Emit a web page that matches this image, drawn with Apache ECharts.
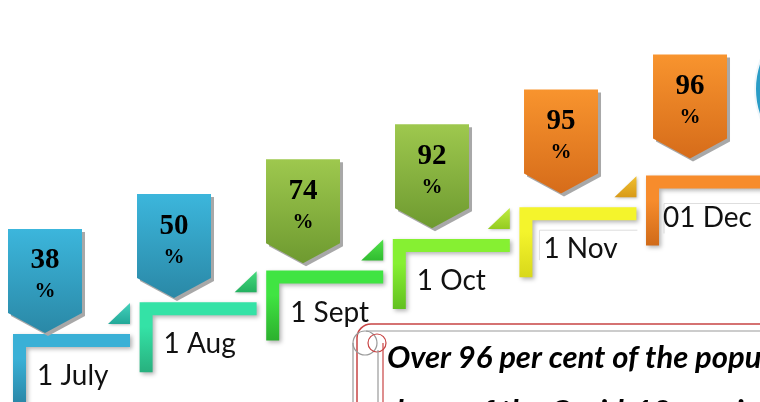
<!DOCTYPE html>
<html>
<head>
<meta charset="utf-8">
<script src="https://cdn.jsdelivr.net/npm/echarts@6/dist/echarts.min.js"></script>
<style>
  html, body { margin: 0; padding: 0; background: #fff; }
  #chart { width: 760px; height: 402px; }
</style>
</head>
<body>
<div id="chart"></div>
<script>
// milestones of the vaccination drive
var dates = ['1 July', '1 Aug', '1 Sept', '1 Oct', '1 Nov', '01 Dec'];
var percents = [38, 50, 74, 92, 95, 96];
var levels = [0, 1, 2, 3, 4, 5];
var caption = [
    'Over 96 per cent of the population received both',
    'doses of the Covid-19 vaccine'
];

// colours for each step
var stepColors = ['#3ab0d6', '#34e2a6', '#40e442', '#86f032', '#f4f42c', '#f78c2c'];
var stepDark = ['#2a86a6', '#28b07e', '#2cb02e', '#62c020', '#d8d81a', '#d06a18'];
var triColors = ['#44d2bc', '#44dc7c', '#52e24a', '#c0ec40', '#f0c030', '#f78c2c'];
var triDark = ['#22a898', '#24b060', '#30bc30', '#94cc20', '#d89a18', '#d06a18'];
var badgeTop = ['#3cb6dc', '#3cb6dc', '#9ec84e', '#9ec84e', '#f8942e', '#f8942e'];
var badgeBot = ['#2a88a6', '#2a88a6', '#6e9a30', '#6e9a30', '#d66c1a', '#d66c1a'];

function grad(c1, c2) {
    return new echarts.graphic.LinearGradient(0, 0, 0, 1, [
        { offset: 0, color: c1 },
        { offset: 1, color: c2 }
    ]);
}

function renderStep(params, api) {
    var i = api.value(0);
    var pt = api.coord([api.value(0), api.value(1)]);
    var x0 = pt[0], y0 = pt[1];
    var w = i === 5 ? 150 : 117, t = 13, len = 70;
    var children = [];

    // faint label box for the later steps
    if (i >= 4) {
        var bx = x0 + (i === 4 ? 20 : 18), by = y0 + (i === 4 ? 23 : 28);
        children.push({
            type: 'polyline',
            shape: { points: [[bx, by + 30], [bx, by], [bx + (i === 4 ? 98 : 120), by]] },
            style: { fill: 'none', stroke: '#dedede', lineWidth: 1 }
        });
    }

    // L shaped step
    children.push({
        type: 'polygon',
        shape: { points: [[x0, y0], [x0 + w, y0], [x0 + w, y0 + t], [x0 + t, y0 + t], [x0 + t, y0 + len], [x0, y0 + len]] },
        style: {
            fill: new echarts.graphic.LinearGradient(0, 0, 0, 1, [
                { offset: 0, color: stepColors[i] },
                { offset: 0.35, color: stepColors[i] },
                { offset: 1, color: stepDark[i] }
            ]),
            shadowBlur: 4, shadowOffsetX: 2, shadowOffsetY: 2, shadowColor: 'rgba(0,0,0,0.3)'
        }
    });

    // little triangle at the end of the step
    if (i < 5) {
        children.push({
            type: 'polygon',
            shape: { points: [[x0 + w - 22, y0 - 10], [x0 + w, y0 - 10], [x0 + w, y0 - 31]] },
            style: {
                fill: grad(triColors[i], triDark[i]),
                shadowBlur: 3, shadowOffsetX: 1, shadowOffsetY: 1, shadowColor: 'rgba(0,0,0,0.25)'
            }
        });
    }

    children.push({
        type: 'text',
        style: {
            x: x0 + (i === 5 ? 17 : 24), y: y0 + 42,
            text: dates[i],
            fill: '#111',
            font: '28px Lato',
            verticalAlign: 'middle', align: 'left'
        }
    });

    // pentagon badge with the percentage
    var cx = x0 + 32 + 2.4 * i;
    var top = y0 - 105 - 3.2 * i;
    var hw = 37, rh = 84, tip = 20;
    var badge = [[cx - hw, top], [cx + hw, top], [cx + hw, top + rh], [cx, top + rh + tip], [cx - hw, top + rh]];
    children.push({
        type: 'polygon',
        shape: { points: badge.map(function (p) { return [p[0] + 3, p[1] + 3]; }) },
        style: { fill: '#a8a8a8' }
    });
    children.push({
        type: 'polygon',
        shape: { points: badge },
        style: { fill: grad(badgeTop[i], badgeBot[i]) }
    });
    children.push({
        type: 'text',
        style: {
            x: cx, y: top + 32, text: String(percents[i]),
            fill: '#000', font: 'bold 29px "Liberation Serif"',
            align: 'center', verticalAlign: 'middle'
        }
    });
    children.push({
        type: 'text',
        style: {
            x: cx, y: top + 63, text: '%',
            fill: '#000', font: 'bold 21px "Liberation Serif"',
            align: 'center', verticalAlign: 'middle'
        }
    });

    return { type: 'group', children: children };
}

var chart = echarts.init(document.getElementById('chart'));

var option = {
    backgroundColor: '#fff',
    animation: false,
    grid: { left: 0, right: 0, top: 0, bottom: 0 },
    xAxis: { type: 'value', min: -0.1027, max: 5.9003, show: false },
    yAxis: { type: 'value', min: -2.145, max: 10.537, show: false },
    graphic: [
        // globe peeking in at the right edge
        {
            type: 'circle', shape: { cx: 835, cy: 89, r: 80 },
            style: { fill: '#2a9cc6', stroke: '#eef6fa', lineWidth: 2 }
        },
        // scroll with the caption
        {
            type: 'rect', shape: { x: 357, y: 324, width: 440, height: 120, r: 14 },
            style: { fill: 'none', stroke: '#c84444', lineWidth: 1.5 }
        },
        {
            type: 'line', shape: { x1: 366, y1: 331, x2: 760, y2: 331 },
            style: { stroke: '#999', lineWidth: 1.2 }
        },
        {
            type: 'circle', shape: { cx: 365, cy: 343, r: 12 },
            style: { fill: 'none', stroke: '#999', lineWidth: 1.2 }
        },
        {
            type: 'circle', shape: { cx: 377, cy: 343, r: 9 },
            style: { fill: 'none', stroke: '#c84444', lineWidth: 1.2 }
        },
        {
            type: 'line', shape: { x1: 353, y1: 343, x2: 353, y2: 402 },
            style: { stroke: '#999', lineWidth: 1.2 }
        },
        {
            type: 'line', shape: { x1: 378, y1: 350, x2: 378, y2: 402 },
            style: { stroke: '#999', lineWidth: 1.2 }
        },
        {
            type: 'line', shape: { x1: 383, y1: 343, x2: 383, y2: 402 },
            style: { stroke: '#c84444', lineWidth: 1.2 }
        },
        {
            type: 'text',
            style: {
                x: 387, y: 358, text: caption[0],
                fill: '#000', font: 'italic bold 31px Lato',
                verticalAlign: 'middle', align: 'left'
            }
        },
        {
            type: 'text',
            style: {
                x: 387, y: 412, text: caption[1],
                fill: '#000', font: 'italic bold 31px Lato',
                verticalAlign: 'middle', align: 'left'
            }
        }
    ],
    series: [{
        type: 'custom',
        coordinateSystem: 'cartesian2d',
        clip: false,
        renderItem: renderStep,
        data: levels.map(function (lv, i) { return [i, lv, percents[i]]; })
    }]
};

chart.setOption(option);
</script>
</body>
</html>
